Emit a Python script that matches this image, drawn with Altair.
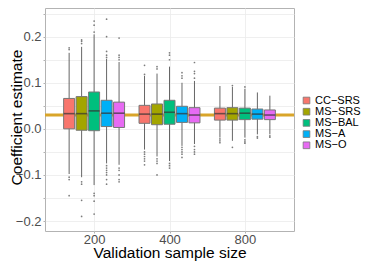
import altair as alt
import pandas as pd

# ---- data ----
sizes = [200, 400, 800]
methods = ["CC−SRS", "MS−SRS", "MS−BAL", "MS−A", "MS−O"]
colors = ["#F8766D", "#A3A500", "#00BF7D", "#00B0F6", "#E76BF3"]

# box statistics, order: size 200 (5 methods), size 400 (5), size 800 (5)
lower_whisker = [-0.098, -0.105, -0.122, -0.075, -0.078,
                 -0.045, -0.060, -0.070, -0.037, -0.033,
                 -0.019, -0.026, -0.019, -0.012, -0.012]
q1 = [0.000, -0.003, -0.004, 0.005, 0.003,
      0.012, 0.009, 0.010, 0.014, 0.013,
      0.019, 0.019, 0.020, 0.021, 0.020]
median = [0.033, 0.033, 0.039, 0.034, 0.034,
          0.032, 0.032, 0.036, 0.033, 0.030,
          0.033, 0.033, 0.034, 0.032, 0.030]
q3 = [0.066, 0.070, 0.080, 0.062, 0.058,
      0.051, 0.054, 0.062, 0.049, 0.046,
      0.045, 0.046, 0.045, 0.043, 0.041]
upper_whisker = [0.165, 0.178, 0.205, 0.152, 0.145,
                 0.115, 0.120, 0.135, 0.100, 0.104,
                 0.093, 0.091, 0.087, 0.079, 0.072]

outliers = {
    (200, "CC−SRS"): [0.172, 0.176, -0.105, -0.110, -0.145],
    (200, "MS−SRS"): [0.185, 0.190, 0.193, -0.115, -0.120, -0.155, -0.190],
    (200, "MS−BAL"): [0.210, 0.225, 0.234, -0.140, -0.145, -0.157, -0.185],
    (200, "MS−A"): [0.155, 0.160, 0.168, 0.200, 0.238, -0.080, -0.085, -0.090,
                    -0.095, -0.100, -0.110, -0.120],
    (200, "MS−O"): [0.150, 0.155, 0.160, 0.197, -0.085, -0.090, -0.100, -0.110, -0.115],
    (400, "CC−SRS"): [0.118, 0.138, -0.050, -0.055, -0.060, -0.065, -0.070, -0.078],
    (400, "MS−SRS"): [0.130, 0.135, -0.065, -0.070, -0.075, -0.100],
    (400, "MS−BAL"): [0.150, 0.160, 0.165, -0.075, -0.080, -0.085],
    (400, "MS−A"): [0.110, 0.115, 0.122, -0.040, -0.045, -0.050, -0.055, -0.062],
    (400, "MS−O"): [0.110, 0.120, 0.125, 0.144, -0.038, -0.045, -0.050, -0.055],
    (800, "CC−SRS"): [-0.022, -0.026, -0.030],
    (800, "MS−SRS"): [0.094, -0.040],
    (800, "MS−BAL"): [0.091, -0.024, -0.028, -0.031],
    (800, "MS−A"): [-0.017, -0.020],
    (800, "MS−O"): [-0.015, -0.018],
}

reference_value = [0.03]
y_ticks = [-0.2, -0.15, -0.1, -0.05, 0.0, 0.05, 0.1, 0.15, 0.2, 0.25]

# ---- tables ----
rows = []
k = 0
for s in sizes:
    for i, m in enumerate(methods):
        rows.append(dict(size=s, method=m, idx=i, lw=lower_whisker[k], q1=q1[k],
                         med=median[k], q3=q3[k], uw=upper_whisker[k]))
        k += 1
stats = pd.DataFrame(rows)

orows = []
for (s, m), vals in outliers.items():
    for v in vals:
        orows.append(dict(size=s, method=m, idx=methods.index(m), value=v))
outs = pd.DataFrame(orows)

ref = pd.DataFrame({"y": reference_value})

# dodge factor in log2 space (like position_dodge on a log axis)
dodge = "datum.size * pow(2, (datum.idx - 2) * 0.1656)"

xscale = alt.Scale(type="log", domain=[133.33, 1200], nice=False)
yscale = alt.Scale(domain=[-0.2217, 0.2623], nice=False)
color_scale = alt.Scale(domain=methods, range=colors)

xenc = alt.X("xpos:Q", scale=xscale,
             axis=alt.Axis(values=sizes, format="d", title="Validation sample size",
                           labelPadding=0, titleBaseline="alphabetic", titleY=26.5))
yaxis = alt.Axis(values=y_ticks, title="Coefficient estimate",
                 titleAngle=270, titleBaseline="alphabetic", titleX=-24, titleY=109,
                 labelExpr="(round(datum.value*20) % 2 != 0) ? '' : replace(format(datum.value, '.1f'), '-', '−')")

base = alt.Chart(stats).transform_calculate(xpos=dodge)

hline = alt.Chart(ref).mark_rule(color="#D9A52A", strokeWidth=3).encode(
    y=alt.Y("y:Q", scale=yscale, axis=yaxis))

whisk = base.mark_rule(color="#555555", strokeWidth=0.9).encode(
    x=xenc, y=alt.Y("lw:Q", scale=yscale, axis=yaxis), y2="uw:Q")

pts = alt.Chart(outs).transform_calculate(xpos=dodge).mark_circle(
    size=3, color="#444444", opacity=0.7).encode(
    x=xenc, y=alt.Y("value:Q", scale=yscale, axis=yaxis))

boxes = base.mark_bar(width=11, stroke="#777777", strokeWidth=1).encode(
    x=xenc, y=alt.Y("q1:Q", scale=yscale, axis=yaxis), y2="q3:Q",
    color=alt.Color("method:N", scale=color_scale,
                    legend=alt.Legend(title=None, orient="none", legendX=256, legendY=87,
                                      symbolType="square", symbolSize=45,
                                      symbolStrokeColor="#777777", symbolStrokeWidth=0.8,
                                      labelFontSize=11, labelColor="#000000",
                                      rowPadding=-0.8, labelOffset=3)))

meds = base.mark_tick(orient="horizontal", size=11, thickness=1.6, color="#333333").encode(
    x=xenc, y=alt.Y("med:Q", scale=yscale, axis=yaxis))

chart = alt.layer(hline, whisk, pts, boxes, meds).properties(
    width=249, height=223,
    autosize=alt.AutoSizeParams(type="none"),
    padding={"left": 37, "top": 0, "right": 72, "bottom": 31},
).configure(font="Liberation Sans").configure_view(
    stroke="#b3b3b3", strokeWidth=1
).configure_axis(
    domain=False, tickColor="#b3b3b3", tickSize=2,
    labelFontSize=13, labelColor="#4d4d4d", labelPadding=2,
    gridColor="#ebebeb", gridWidth=0.8,
    titleFontSize=15.5, titleFontWeight="normal", titleColor="#000000",
)

chart.save("out.html", embed_options={"renderer": "svg", "actions": False})
